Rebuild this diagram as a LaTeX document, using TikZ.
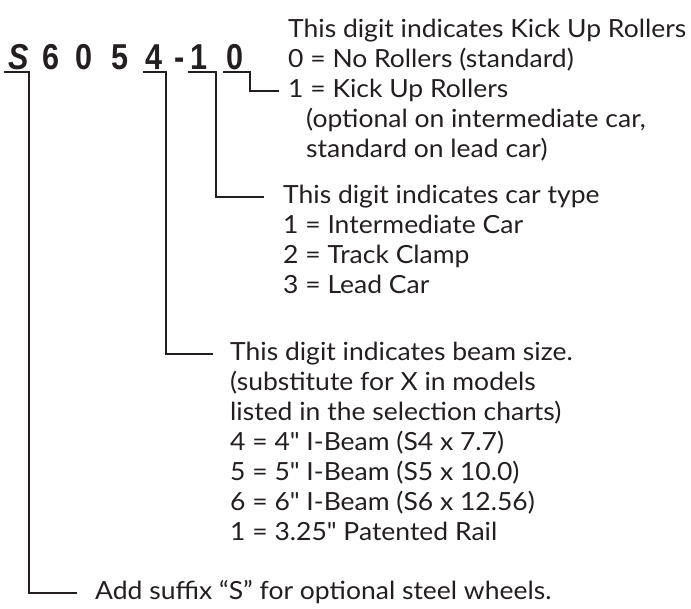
\documentclass[tikz,border=0pt]{standalone}
\usepackage{fontspec}
\newfontfamily\notefont{Lato}[FakeStretch=1.06]
\newfontfamily\codefont{Liberation Sans}
\usetikzlibrary{positioning}
\definecolor{ink}{RGB}{35,31,32}
\tikzset{
  digit/.style={inner sep=0pt, anchor=base, text=ink,
    font=\codefont\bfseries\fontsize{36}{36}\selectfont},
  note/.style={inner sep=0pt, anchor=west, text=ink,
    text height=18pt, text depth=6pt, font=\notefont\fontsize{25}{30}\selectfont},
  leader/.style={draw=ink, line width=2.4pt}
}

\begin{document}
\begin{tikzpicture}[x=1pt, y=-1pt, node distance=30pt]
    \useasboundingbox (0,0) rectangle (691,608);

    % model number
    \node[digit] (dS) at (19,69) {\scalebox{0.85}[1]{\itshape S}};
    \foreach \c/\px/\nm in {6/51/d6, 0/84/dz, 5/120/d5, 4/154/d4, -/180/dh, 1/199/d1, 0/235/d0}
      \node[digit] (\nm) at (\px,69) {\scalebox{0.85}[1]{\c}};

    % kick up rollers
    \node[note] (k1) at (288,31) {This digit indicates Kick Up Rollers};
    \node[note, below=of k1.west, anchor=west] (k2) {0 = No Rollers (standard)};
    \node[note, below=of k2.west, anchor=west] (k3) {1 = Kick Up Rollers};
    \node[note, below=of k3.west, anchor=west, xshift=18pt] (k4) {(optional on intermediate car,};
    \node[note, below=of k4.west, anchor=west] (k5) {standard on lead car)};

    % car type
    \node[note] (c1) at (283,197) {This digit indicates car type};
    \node[note, below=of c1.west, anchor=west] (c2) {1 = Intermediate Car};
    \node[note, below=of c2.west, anchor=west] (c3) {2 = Track Clamp};
    \node[note, below=of c3.west, anchor=west] (c4) {3 = Lead Car};

    % beam size
    \node[note] (b1) at (230,354) {This digit indicates beam size.};
    \node[note, below=of b1.west, anchor=west] (b2) {(substitute for X in models};
    \node[note, below=of b2.west, anchor=west] (b3) {listed in the selection charts)};
    \node[note, below=of b3.west, anchor=west] (b4) {4 = 4" I-Beam (S4 x 7.7)};
    \node[note, below=of b4.west, anchor=west] (b5) {5 = 5" I-Beam (S5 x 10.0)};
    \node[note, below=of b5.west, anchor=west] (b6) {6 = 6" I-Beam (S6 x 12.56)};
    \node[note, below=of b6.west, anchor=west] (b7) {1 = 3.25" Patented Rail};

    \node[note] (add) at (95,593) {Add suffix “S” for optional steel wheels.};

    \draw[leader] ([xshift=-12pt,yshift=-3pt]d0.base) -- ([xshift=15pt,yshift=-3pt]d0.base) |- ([xshift=-9pt]k3.west);
    \draw[leader] ([xshift=-11pt,yshift=-3pt]d1.base) -- ([xshift=17pt,yshift=-3pt]d1.base) |- ([xshift=-19pt]c1.west);
    \draw[leader] ([xshift=-11pt,yshift=-3pt]d4.base) -- ([xshift=12pt,yshift=-3pt]d4.base) |- ([xshift=-17pt]b1.west);
    \draw[leader] ([xshift=-15pt,yshift=-3pt]dS.base) -- ([xshift=10pt,yshift=-3pt]dS.base) |- ([xshift=-18pt]add.west);
\end{tikzpicture}
\end{document}
